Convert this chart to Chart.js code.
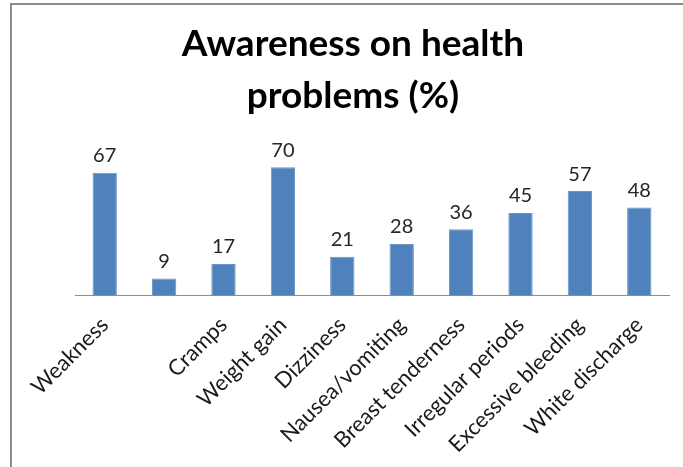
<!DOCTYPE html>
<html>
<head>
<meta charset="utf-8">
<script src="https://cdn.jsdelivr.net/npm/chart.js@4/dist/chart.umd.min.js"></script>
<style>
  html, body { margin: 0; padding: 0; background: #ffffff; }
  #wrap { width: 683px; height: 467px; position: relative; }
</style>
</head>
<body>
<div id="wrap"><canvas id="chart" width="683" height="467"></canvas></div>
<script>
// Health problems and the share of respondents aware of each (%)
const categories = [
  'Weakness', '', 'Cramps', 'Weight gain', 'Dizziness',
  'Nausea/vomiting', 'Breast tenderness', 'Irregular periods',
  'Excessive bleeding', 'White discharge'
];
const awareness = [67, 9, 17, 70, 21, 28, 36, 45, 57, 48];
const titleLines = ['Awareness on health', 'problems (%)'];

const FONT = "Lato, 'Open Sans', 'DejaVu Sans', sans-serif";

// Outer frame: grey rule along the left and top edges
const framePlugin = {
  id: 'frame',
  beforeDraw(chart) {
    const ctx = chart.ctx;
    ctx.save();
    ctx.strokeStyle = '#8c8c8c';
    ctx.lineWidth = 2;
    ctx.beginPath();
    ctx.moveTo(11, chart.height);
    ctx.lineTo(11, 4);
    ctx.lineTo(chart.width, 4);
    ctx.stroke();
    ctx.restore();
  }
};

// Value written above each bar
const valueLabels = {
  id: 'valueLabels',
  afterDatasetsDraw(chart) {
    const ctx = chart.ctx;
    const meta = chart.getDatasetMeta(0);
    const data = chart.data.datasets[0].data;
    ctx.save();
    ctx.font = '20px ' + FONT;
    ctx.fillStyle = '#262626';
    ctx.textAlign = 'center';
    ctx.textBaseline = 'bottom';
    meta.data.forEach((bar, i) => {
      ctx.fillText(String(data[i]), bar.x, bar.y - 7);
    });
    ctx.restore();
  }
};

new Chart(document.getElementById('chart'), {
  type: 'bar',
  data: {
    labels: categories,
    datasets: [{
      data: awareness,
      backgroundColor: '#4f81bd',
      borderColor: '#6a94c9',
      borderWidth: 1,
      barPercentage: 0.41,
      categoryPercentage: 1.0
    }]
  },
  options: {
    responsive: false,
    animation: false,
    events: [],
    layout: { padding: { left: 37, right: 14, top: 0, bottom: 0 } },
    plugins: {
      legend: { display: false },
      tooltip: { enabled: false },
      title: {
        display: true,
        text: titleLines,
        color: '#000000',
        font: { family: FONT, size: 37, weight: 'bold', lineHeight: 1.38 },
        padding: { top: 19, bottom: 28 }
      }
    },
    scales: {
      x: {
        grid: { display: false },
        border: { display: true, color: '#8c8c8c', width: 1 },
        ticks: {
          color: '#1a1a1a',
          font: { family: FONT, size: 22 },
          minRotation: 45,
          maxRotation: 45,
          autoSkip: false,
          padding: 9
        },
        afterFit(scale) { scale.height = 172; }
      },
      y: {
        min: 0,
        max: 80,
        grid: { display: false },
        border: { display: false },
        ticks: { display: false },
        afterFit(scale) { scale.width = 38; }
      }
    }
  },
  plugins: [framePlugin, valueLabels]
});
</script>
</body>
</html>
